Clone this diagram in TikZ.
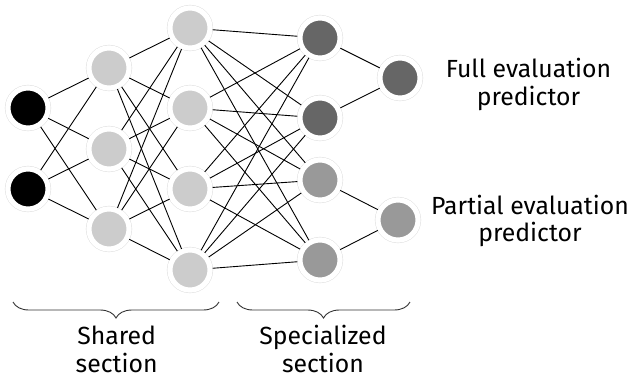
\documentclass[tikz,border=0pt]{standalone}
\usepackage{fontspec}
\setmainfont{Fira Sans}
\usetikzlibrary{decorations.pathreplacing}

\definecolor{inputgray}{HTML}{000000}
\definecolor{sharedgray}{HTML}{CCCCCC}
\definecolor{fullgray}{HTML}{666666}
\definecolor{partgray}{HTML}{999999}

\tikzset{
  neuron/.style={circle, minimum size=40.2bp, inner sep=0pt, fill=#1,
    draw=white, line width=5.2bp, preaction={draw=gray!30, line width=6bp}},
  link/.style={black, line width=0.9bp},
  caption/.style={align=center, anchor=base, inner sep=0pt,
    font=\fontsize{24.8bp}{27.5bp}\selectfont},
  secbrace/.style={decorate, decoration={brace, mirror, amplitude=16bp},
    draw=black!80, line width=0.9bp}
}

\begin{document}
\begin{tikzpicture}[x=1bp,y=-1bp]
\useasboundingbox (0,0) rectangle (630,379);

% Input layer
\node[neuron=inputgray] (i1) at (28,108) {};
\node[neuron=inputgray] (i2) at (28,189) {};

% Shared hidden layers
\node[neuron=sharedgray] (h1) at (109,68) {};
\node[neuron=sharedgray] (h2) at (109,149) {};
\node[neuron=sharedgray] (h3) at (109,229) {};
\node[neuron=sharedgray] (g1) at (190,28) {};
\node[neuron=sharedgray] (g2) at (190,108) {};
\node[neuron=sharedgray] (g3) at (190,189) {};
\node[neuron=sharedgray] (g4) at (190,270) {};

% Specialized layers
\node[neuron=fullgray] (s1) at (320,38) {};
\node[neuron=fullgray] (s2) at (320,118) {};
\node[neuron=partgray] (s3) at (320,180) {};
\node[neuron=partgray] (s4) at (320,260) {};
\node[neuron=fullgray] (o1) at (400,78) {};
\node[neuron=partgray] (o2) at (398,220) {};

% Connections
\foreach \a in {i1,i2}
  \foreach \b in {h1,h2,h3}
    \draw[link] (\a) -- (\b);
\foreach \a in {h1,h2,h3}
  \foreach \b in {g1,g2,g3,g4}
    \draw[link] (\a) -- (\b);
\foreach \a in {g1,g2,g3,g4}
  \foreach \b in {s1,s2,s3,s4}
    \draw[link] (\a) -- (\b);
\draw[link] (s1) -- (o1);
\draw[link] (s2) -- (o1);
\draw[link] (s3) -- (o2);
\draw[link] (s4) -- (o2);

% Output labels (base = last line)
\node[caption] (fulllbl) at (528.5,105.2) {Full evaluation\\predictor};
\node[caption] (partlbl) at (530,241.5) {Partial evaluation\\predictor};

% Section braces and labels
\coordinate (sharedL) at (13,302);
\coordinate (sharedR) at (219,302);
\coordinate (specL) at (237,302);
\coordinate (specR) at (410,302);
\draw[secbrace] (sharedL) -- (sharedR);
\draw[secbrace] (specL) -- (specR);
\node[caption, text depth=0pt] (sharedlbl) at (116.7,372) {Shared\\section};
\node[caption, text depth=0pt] (speclbl) at (323,372) {Specialized\\section};
\end{tikzpicture}
\end{document}
